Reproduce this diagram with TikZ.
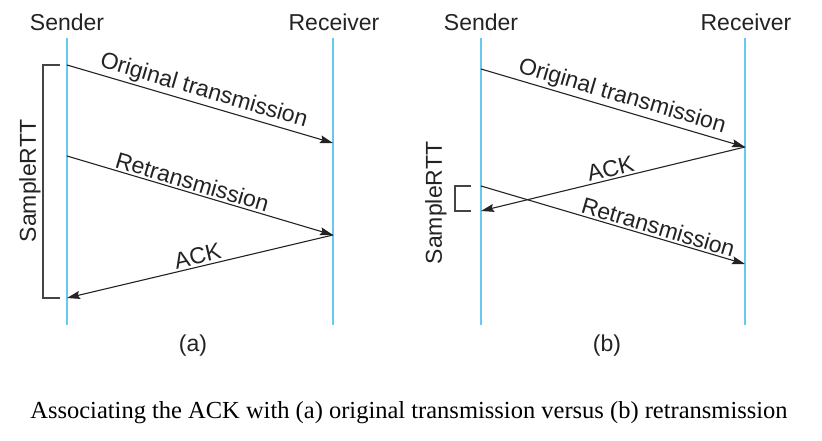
\documentclass[tikz,border=0pt]{standalone}
\usepackage{fontspec}
\setmainfont{Liberation Sans}
\newfontfamily\captionfont{Liberation Serif}
\usepackage{xcolor}
\usetikzlibrary{arrows.meta, positioning}
\definecolor{lineblue}{RGB}{105,200,240}
\definecolor{inkgray}{RGB}{35,35,35}
\tikzstyle{endpoint} = [font=\fontsize{23}{23}\selectfont,
text=inkgray,
inner sep=0pt]
\tikzstyle{timeline} = [draw=lineblue, line width=2.2pt]
\tikzstyle{arrow} = [draw=inkgray, line width=1.1pt,
-{Stealth[length=13pt, width=8pt, inset=2pt]}]
\tikzstyle{msg} = [font=\fontsize{23}{23}\selectfont,
text=inkgray,
sloped, above=1pt, inner sep=1pt]
\tikzstyle{bracket} = [draw=inkgray!85, line width=1.1pt]
\tikzstyle{rttlabel} = [font=\fontsize{23}{23}\selectfont,
text=inkgray, rotate=90, inner sep=0pt]

\begin{document}
\begin{tikzpicture}[x=1pt, y=-1pt]
\useasboundingbox (0,0) rectangle (822,441);

% (a) original transmission
\node (sendA) [endpoint] at (67,22) {Sender};
\node (recvA) [endpoint] at (334,22) {Receiver};
\coordinate (sendAtop) at (67,38);
\coordinate (sendAbot) at (67,325);
\coordinate (recvAtop) at (333,38);
\coordinate (recvAbot) at (333,325);
\draw [timeline] (sendAtop) -- (sendAbot);
\draw [timeline] (recvAtop) -- (recvAbot);

\coordinate (origA) at (67,65);
\coordinate (origAin) at (333,143);
\coordinate (retrA) at (67,156);
\coordinate (retrAin) at (333,235);
\coordinate (ackA) at (67,298);

\draw [arrow] (origA) -- node[msg] {Original transmission} (origAin);
\draw [arrow] (retrA) -- node[msg, pos=0.46] {Retransmission} (retrAin);
\draw [arrow] (retrAin) -- node[msg] {ACK} (ackA);

\draw [bracket] ([xshift=-7pt]origA) -- ++(-17,0) |- ([xshift=-7pt]ackA);
\node (rttA) [rttlabel] at (30,181) {SampleRTT};
\node (capA) [endpoint] at (193,346) {(a)};

% (b) retransmission
\node (sendB) [endpoint] at (481,22) {Sender};
\node (recvB) [endpoint] at (746,22) {Receiver};
\coordinate (sendBtop) at (481,38);
\coordinate (sendBbot) at (481,325);
\coordinate (recvBtop) at (745,38);
\coordinate (recvBbot) at (745,325);
\draw [timeline] (sendBtop) -- (sendBbot);
\draw [timeline] (recvBtop) -- (recvBbot);

\coordinate (origB) at (481,69);
\coordinate (origBin) at (745,147);
\coordinate (retrB) at (481,186);
\coordinate (retrBin) at (745,264);
\coordinate (ackB) at (481,211);

\draw [arrow] (origB) -- node[msg, pos=0.52] {Original transmission} (origBin);
\draw [arrow] (origBin) -- node[msg] {ACK} (ackB);
\draw [arrow] (retrB) -- node[msg, pos=0.66] {Retransmission} (retrBin);

\draw [bracket] ([xshift=-10pt]retrB) -- ++(-16,0) |- ([xshift=-10pt]ackB);
\node (rttB) [rttlabel] at (436,203) {SampleRTT};
\node (capB) [endpoint] at (607,346) {(b)};

\node (caption) [font=\captionfont\fontsize{24.5}{24.5}\selectfont, text=black]
at (409,413) {Associating the ACK with (a) original transmission versus (b) retransmission};
\end{tikzpicture}
\end{document}
